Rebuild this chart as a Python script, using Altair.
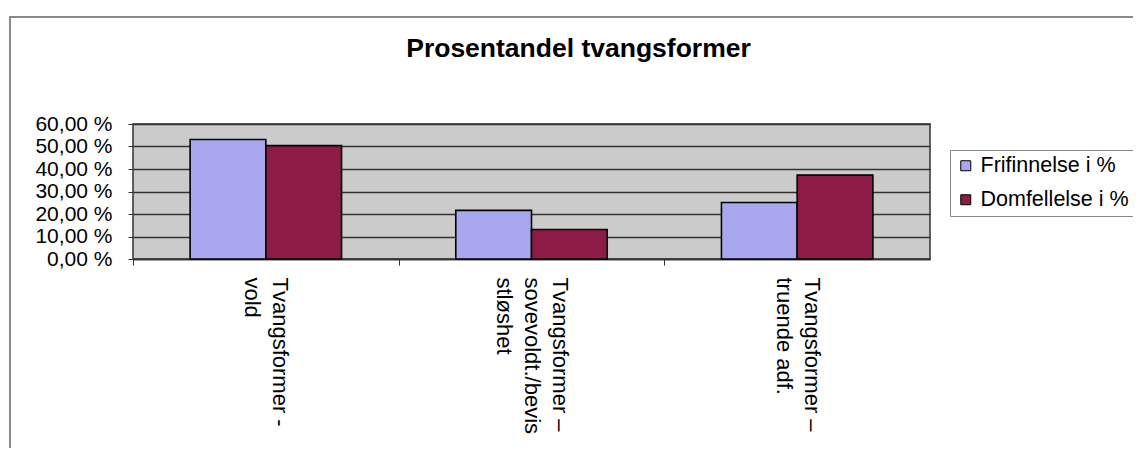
import altair as alt
import pandas as pd

# ---- data ----
categories = [
    "Tvangsformer -|vold",
    "Tvangsformer –|sovevoldt./bevis|stløshet",
    "Tvangsformer –|truende adf.",
]
series = ["Frifinnelse i %", "Domfellelse i %"]
frifinnelse = [53.1, 21.6, 25.1]
domfellelse = [50.4, 13.1, 37.3]
y_ticks = [0, 10, 20, 30, 40, 50, 60]
colors = ["#a9a7ee", "#8e1b46"]

rows = []
for c, f, d in zip(categories, frifinnelse, domfellelse):
    rows.append({"kategori": c, "serie": series[0], "verdi": f})
    rows.append({"kategori": c, "serie": series[1], "verdi": d})
df = pd.DataFrame(rows)

FONT = "Liberation Sans"
PLOT_W = 797
STEP = PLOT_W / 3.0
LINE_H = 28

bars = alt.Chart(df).mark_bar(stroke="black", strokeWidth=1.6).encode(
    x=alt.X(
        "kategori:N",
        sort=categories,
        scale=alt.Scale(paddingInner=0.43, paddingOuter=0.215),
        axis=alt.Axis(
            title=None,
            labelAngle=90,
            labelAlign="left",
            labelBaseline="middle",
            labelExpr="split(datum.label, '|')",
            labelFont=FONT,
            labelFontSize=22,
            labelLineHeight=LINE_H,
            labelPadding=12,
            labelLimit=0,
            labelOverlap=False,
            labelColor="black",
            tickOffset=-STEP / 2,
            labelOffset={
                "condition": {
                    "test": "length(split(datum.label, '|')) == 3",
                    "value": STEP / 2 + LINE_H,
                },
                "value": STEP / 2 + LINE_H / 2,
            },
            ticks=True,
            tickSize=6,
            tickColor="#333333",
            domainColor="#333333",
            domainWidth=1.5,
            grid=False,
        ),
    ),
    xOffset=alt.XOffset("serie:N", sort=series,
                        scale=alt.Scale(paddingInner=0, paddingOuter=0)),
    y=alt.Y(
        "verdi:Q",
        scale=alt.Scale(domain=[0, 60], nice=False),
        axis=alt.Axis(
            title=None,
            values=y_ticks,
            labelExpr="replace(format(datum.value, '.2f'), '.', ',') + ' %'",
            labelFont=FONT,
            labelFontSize=21,
            labelColor="black",
            labelPadding=16,
            tickSize=5,
            tickColor="#333333",
            domain=False,
            grid=True,
            gridColor="#333333",
            gridWidth=1.4,
        ),
    ),
    color=alt.Color(
        "serie:N",
        sort=series,
        scale=alt.Scale(domain=series, range=colors),
        legend=alt.Legend(
            title=None,
            orient="none",
            legendX=817,
            legendY=26,
            labelFont=FONT,
            labelFontSize=21.5,
            labelColor="black",
            symbolType="square",
            symbolSize=100,
            symbolStrokeColor="black",
            symbolStrokeWidth=1,
            symbolOpacity=1,
            labelOffset=4,
            rowPadding=11,
            padding=5,
            strokeColor="#888888",
            fillColor="white",
        ),
    ),
)

border = alt.Chart(alt.Data(values=[{}])).mark_rect(
    fill=None, stroke="#8a8a8a", strokeWidth=2
).encode(
    x=alt.value(-123), x2=alt.value(1100),
    y=alt.value(-107), y2=alt.value(400),
)

chart = alt.layer(border, bars).properties(
    width=PLOT_W,
    height=135,
    title=alt.TitleParams(
        "Prosentandel tvangsformer",
        font=FONT,
        fontSize=26.5,
        fontWeight="bold",
        color="black",
        anchor="middle",
        frame="group",
        baseline="alphabetic",
        dx=47,
        dy=67,
        offset=0,
    ),
    autosize=alt.AutoSizeParams(type="none"),
    padding={"left": 125, "top": 116, "right": 203, "bottom": 189},
    background="white",
).configure_view(
    fill="#cbcbcb", stroke="#333333", strokeWidth=1.5
)

chart.save("out.html", embed_options={"renderer": "svg", "actions": False})
